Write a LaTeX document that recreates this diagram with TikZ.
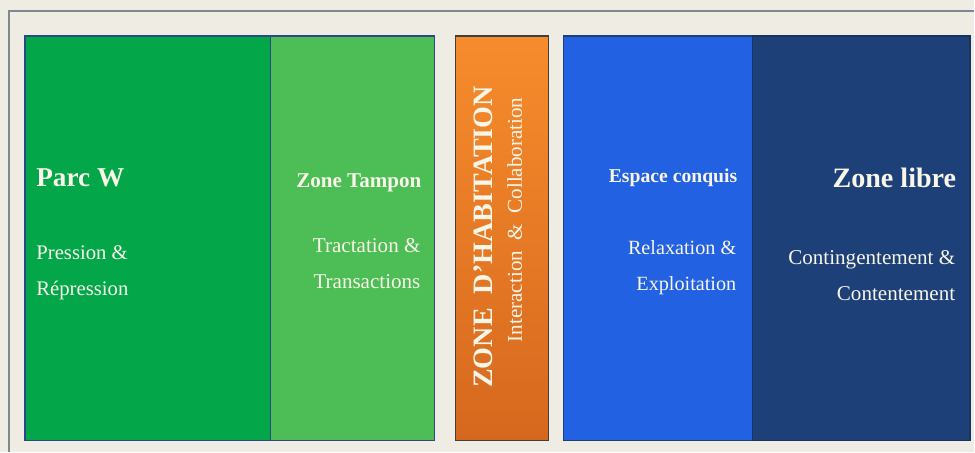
\documentclass[tikz,border=0pt]{standalone}
\usepackage{fontspec}
\setmainfont{Liberation Serif}
\usepackage{tikz}
\usetikzlibrary{positioning}
\definecolor{pagebg}{RGB}{239,236,228}
\definecolor{framegrey}{RGB}{128,134,146}
\definecolor{parcgreen}{RGB}{4,166,74}
\definecolor{tampongreen}{RGB}{77,189,85}
\definecolor{habtop}{RGB}{246,140,44}
\definecolor{habbottom}{RGB}{214,104,30}
\definecolor{conqblue}{RGB}{34,98,226}
\definecolor{librenavy}{RGB}{29,64,120}
\definecolor{edgeblue}{RGB}{42,72,134}
\definecolor{cream}{RGB}{248,246,232}

\begin{document}
\begin{tikzpicture}[x=0.02cm, y=-0.02cm,
    zone/.style={rectangle, anchor=north west, minimum height=8.1cm, inner sep=0pt, draw=edgeblue, line width=0.9pt},
    title/.style={inner sep=0pt, text=cream, font=\bfseries\fontsize{12}{15}\selectfont},
    label/.style={inner sep=0pt, text=cream, font=\fontsize{12}{20.5}\selectfont}
]

% page and frame
\fill[pagebg] (0,0) rectangle (975,452);
\draw[framegrey, line width=0.6pt] (9,452) -- (9,11) -- (975,11);
\useasboundingbox (0,0) rectangle (975,452);

% zones
\node[zone, fill=parcgreen, minimum width=4.92cm] (parc) at (24,35) {};
\node[zone, fill=tampongreen, minimum width=3.28cm] (tampon) at (270,35) {};
\node[zone, top color=habtop, bottom color=habbottom, draw=black!75, minimum width=1.86cm] (habitat) at (455,35) {};
\node[zone, fill=conqblue, draw=librenavy, minimum width=3.78cm] (conquis) at (563,35) {};
\node[zone, fill=librenavy, draw=librenavy!80!black, minimum width=4.36cm] (libre) at (752,35) {};

% texts
\node[title, anchor=west, font=\bfseries\fontsize{15.5}{18}\selectfont] (parcT) at (36,178) {Parc W};
\node[label, anchor=west, align=left, font=\fontsize{11.8}{20.5}\selectfont] (parcL) at (36,273) {Pression \&\\Répression};

\node[title, anchor=east] (tamponT) at (422,183) {Zone Tampon};
\node[label, anchor=east, align=right] (tamponL) at (421,264) {Tractation \&\\Transactions};

\node[inner sep=0pt, text=cream, rotate=90, font=\bfseries\fontsize{16}{18}\selectfont] (habT) at (484,237) {ZONE\ \ D’HABITATION};
\node[inner sep=0pt, text=cream, rotate=90, font=\fontsize{12}{14}\selectfont] (habL) at (515,220) {Interaction \ \& \ Collaboration};

\node[title, anchor=east, font=\bfseries\fontsize{11.2}{14}\selectfont] (conquisT) at (738,178) {Espace conquis};
\node[label, anchor=east, align=right, font=\fontsize{11.5}{20.5}\selectfont] (conquisL) at (737,268) {Relaxation \&\\Exploitation};

\node[title, anchor=east, font=\bfseries\fontsize{16}{18}\selectfont] (libreT) at (957,178) {Zone libre};
\node[label, anchor=east, align=right] (libreL) at (956,276) {Contingentement \&\\Contentement};

\end{tikzpicture}
\end{document}
